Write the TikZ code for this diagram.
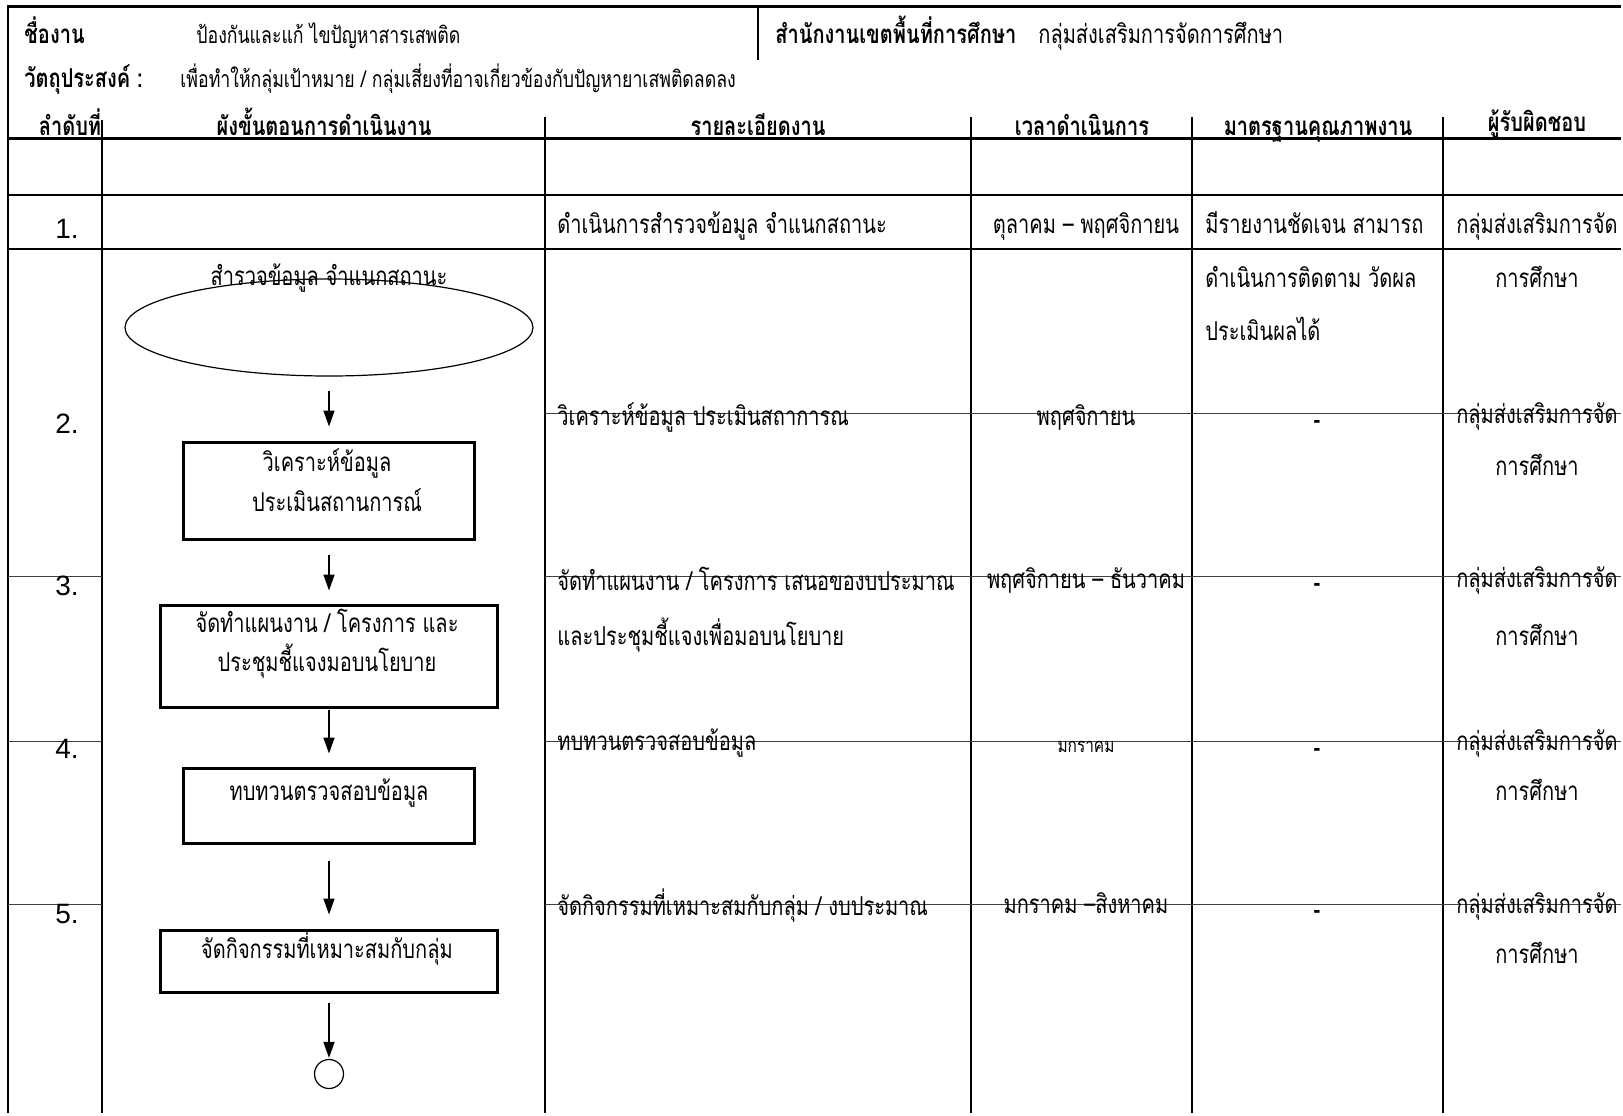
\documentclass[tikz,border=0pt]{standalone}
\usepackage{fontspec}
\setmainfont[Script=Thai,FakeStretch=0.77]{Loma}
\newfontfamily\numfont{Liberation Sans}
\usetikzlibrary{arrows.meta,positioning,shapes.geometric}

\begin{document}
\begin{tikzpicture}[x=0.5pt,y=-0.5pt,shorten >=1pt,node distance=80pt,on grid,
    >={Triangle[length=8pt,width=5.5pt]},
    box/.style = {draw,line width=1.5pt,inner sep=0pt},
    wbox/.style = {box,minimum width=168.5pt},
    nbox/.style = {box,minimum width=145.5pt},
    boxtxt/.style = {inner sep=0pt,anchor=mid,font=\fontsize{13}{15}\selectfont},
    txt/.style = {inner sep=0pt,font=\fontsize{13}{15}\selectfont},
    small/.style = {inner sep=0pt,anchor=mid west,font=\fontsize{11.5}{13}\selectfont},
    hdr/.style = {inner sep=0pt,font=\fontsize{13}{15}\selectfont\bfseries},
    cell/.style = {txt,anchor=mid west},
    ctr/.style = {txt,anchor=mid},
    num/.style = {inner sep=0pt,font=\numfont\fontsize{14}{16}\selectfont},
    dashmark/.style = {inner sep=0pt,font=\fontsize{13}{15}\selectfont\bfseries},
    rule/.style = {line width=1.2pt},
    fine/.style = {line width=0.5pt,black!75}]

    \useasboundingbox (0,0) rectangle (1623,1115);

    \draw[line width=1.5pt] (7,6) -- (1623,6);
    \draw[rule] (8,5) -- (8,1115);
    \draw[rule] (758,6) -- (758,62);
    \draw[line width=1.5pt] (8,138) -- (1623,138);
    \draw[line width=1pt] (8,195) -- (1623,195) (8,249) -- (1623,249);
    \draw[rule] (102,120) -- (102,1115);
    \draw[rule] (545,117) -- (545,1115);
    \draw[rule] (971,117) -- (971,1115);
    \draw[rule] (1192,117) -- (1192,1115);
    \draw[rule] (1443,117) -- (1443,1115);
    \draw[fine] (545,413) -- (1623,413);
    \draw[fine] (8,576) -- (102,576) (545,576) -- (1623,576);
    \draw[fine] (8,741) -- (102,741) (545,741) -- (1623,741);
    \draw[fine] (8,904) -- (102,904) (545,904) -- (1623,904);

    \node[hdr,anchor=mid west] (jobkey) at (24,38) {ชื่องาน};
    \node[small] (jobname) at (196,38) {ป้องกันและแก้ ไขปัญหาสารเสพติด};
    \node[hdr,anchor=mid west] (officekey) at (775,38) {สำนักงานเขตพื้นที่การศึกษา};
    \node[cell] (officename) at (1038,38) {กลุ่มส่งเสริมการจัดการศึกษา};
    \node[hdr,anchor=mid west] (aimkey) at (24,82) {วัตถุประสงค์ :};
    \node[small] (aimtext) at (180,82) {เพื่อทำให้กลุ่มเป้าหมาย / กลุ่มเสี่ยงที่อาจเกี่ยวข้องกับปัญหายาเสพติดลดลง};

    \node[hdr,anchor=mid] (hno) at (70,130) {ลำดับที่};
    \node[hdr,anchor=mid] (hflow) at (324,130) {ผังขั้นตอนการดำเนินงาน};
    \node[hdr,anchor=mid] (hdetail) at (758,130) {รายละเอียดงาน};
    \node[hdr,anchor=mid] (htime) at (1082,130) {เวลาดำเนินการ};
    \node[hdr,anchor=mid] (hstd) at (1318,130) {มาตรฐานคุณภาพงาน};
    \node[hdr,anchor=mid] (hresp) at (1537,126) {ผู้รับผิดชอบ};

    \node[draw,ellipse,line width=0.6pt,minimum width=204pt,minimum height=48.5pt,inner sep=0pt] (survey) at (329,327.5) {};
    \node[boxtxt] (surveytxt) at ([yshift=-1pt]survey.north) {สำรวจข้อมูล จำแนกสถานะ};
    \node[nbox,minimum height=48.5pt] (analyze) [below=81.5pt of survey] {};
    \node[wbox,minimum height=51pt] (plan) [below=82.75pt of analyze] {};
    \node[nbox,minimum height=37.5pt] (review) [below=74.75pt of plan] {};
    \node[wbox,minimum height=31pt] (act) [below=77.75pt of review] {};
    \node[draw,circle,line width=0.6pt,minimum size=14.5pt,inner sep=0pt] (finish) [below=56.5pt of act] {};

    \node[boxtxt] (analyzea) at ([xshift=-1pt,yshift=12pt]analyze.center) {วิเคราะห์ข้อมูล};
    \node[boxtxt] (analyzeb) at ([xshift=4pt,yshift=-7.75pt]analyze.center) {ประเมินสถานการณ์};
    \node[boxtxt] (plana) at ([xshift=-1pt,yshift=14.5pt]plan.center) {จัดทำแผนงาน / โครงการ และ};
    \node[boxtxt] (planb) at ([xshift=-1pt,yshift=-5pt]plan.center) {ประชุมชี้แจงมอบนโยบาย};
    \node[boxtxt] (reviewa) at ([yshift=5.25pt]review.center) {ทบทวนตรวจสอบข้อมูล};
    \node[boxtxt] (acta) at ([xshift=-1pt,yshift=4pt]act.center) {จัดกิจกรรมที่เหมาะสมกับกลุ่ม};

    \path[->,line width=0.8pt]
    (survey) edge[shorten <=7pt,shorten >=7pt] (analyze)
    (analyze) edge[shorten <=7pt,shorten >=6.5pt] (plan)
    (plan) edge[shorten <=0.5pt,shorten >=6.5pt] (review)
    (review) edge[shorten <=8pt,shorten >=7pt] (act)
    (act) edge[shorten <=4.5pt,shorten >=0.5pt] (finish)
    ;

    \node[num] (no1) at (67,229) {1.};
    \node[cell] (det1) at (557,228) {ดำเนินการสำรวจข้อมูล จำแนกสถานะ};
    \node[ctr] (time1) at (1086,228) {ตุลาคม -- พฤศจิกายน};
    \node[cell] (std1a) at (1205,228) {มีรายงานชัดเจน สามารถ};
    \node[cell] (std1b) at (1205,282) {ดำเนินการติดตาม วัดผล};
    \node[cell] (std1c) at (1205,335) {ประเมินผลได้};
    \node[ctr] (resp1a) at (1537,228) {กลุ่มส่งเสริมการจัด};
    \node[ctr] (resp1b) at (1537,282) {การศึกษา};

    \node[num] (no2) at (67,424) {2.};
    \node[cell] (det2) at (557,420) {วิเคราะห์ข้อมูล ประเมินสถาการณ};
    \node[ctr] (time2) at (1086,420) {พฤศจิกายน};
    \node[dashmark] (std2) at (1317,424) {-};
    \node[ctr] (resp2a) at (1537,418) {กลุ่มส่งเสริมการจัด};
    \node[ctr] (resp2b) at (1537,470) {การศึกษา};

    \node[num] (no3) at (67,586) {3.};
    \node[cell] (det3a) at (557,585) {จัดทำแผนงาน / โครงการ เสนอของบประมาณ};
    \node[cell] (det3b) at (557,640) {และประชุมชี้แจงเพื่อมอบนโยบาย};
    \node[ctr] (time3) at (1086,583) {พฤศจิกายน -- ธันวาคม};
    \node[dashmark] (std3) at (1317,587) {-};
    \node[ctr] (resp3a) at (1537,582) {กลุ่มส่งเสริมการจัด};
    \node[ctr] (resp3b) at (1537,640) {การศึกษา};

    \node[num] (no4) at (67,749) {4.};
    \node[cell] (det4) at (557,745) {ทบทวนตรวจสอบข้อมูล};
    \node[ctr,font=\fontsize{10}{12}\selectfont] (time4) at (1086,747) {มกราคม};
    \node[dashmark] (std4) at (1317,752) {-};
    \node[ctr] (resp4a) at (1537,745) {กลุ่มส่งเสริมการจัด};
    \node[ctr] (resp4b) at (1537,795) {การศึกษา};

    \node[num] (no5) at (67,914) {5.};
    \node[cell] (det5) at (557,910) {จัดกิจกรรมที่เหมาะสมกับกลุ่ม / งบประมาณ};
    \node[ctr] (time5) at (1086,908) {มกราคม --สิงหาคม};
    \node[dashmark] (std5) at (1317,914) {-};
    \node[ctr] (resp5a) at (1537,908) {กลุ่มส่งเสริมการจัด};
    \node[ctr] (resp5b) at (1537,958) {การศึกษา};
\end{tikzpicture}
\end{document}
